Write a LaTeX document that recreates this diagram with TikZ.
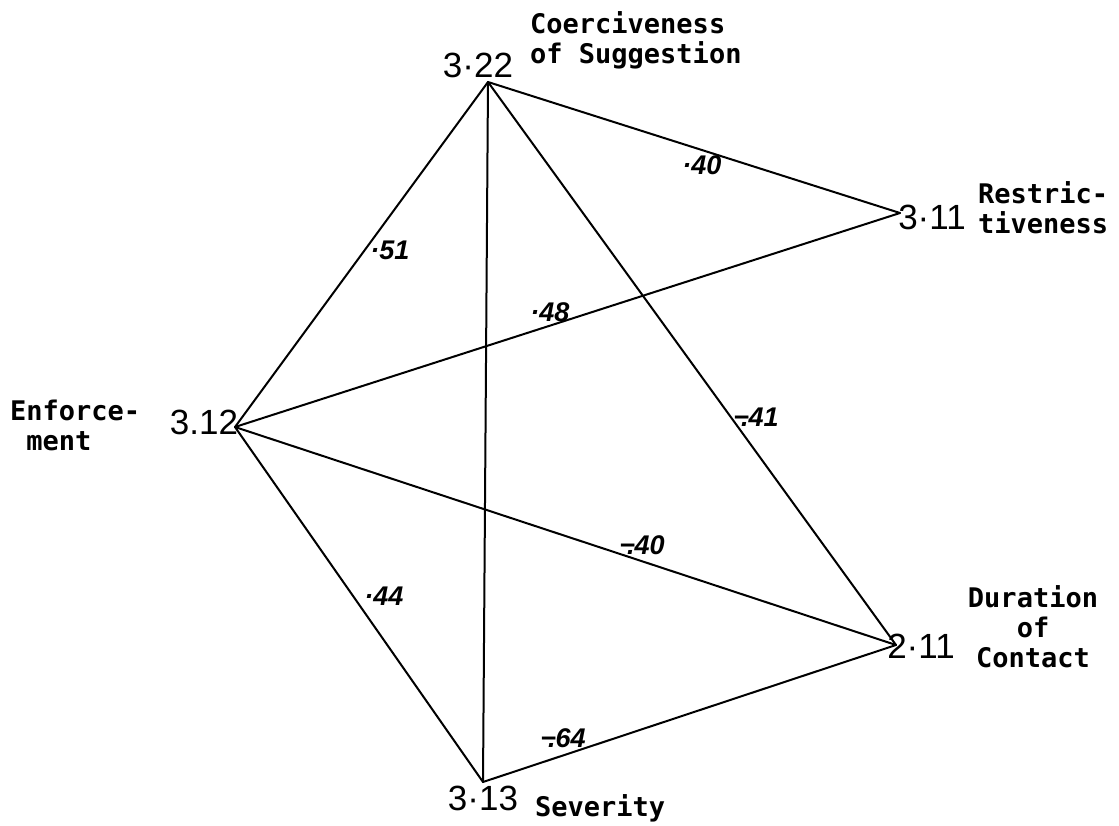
\documentclass[tikz,border=0pt]{standalone}
\usepackage{fontspec}
\newfontfamily\lblfont{DejaVu Sans Mono}
\newfontfamily\numfont{Liberation Sans}
\begin{document}
\begin{tikzpicture}[x=1pt,y=-1pt,
  edge/.style={line width=2pt, line cap=round, line join=round},
  term/.style={inner sep=0pt, font=\lblfont\bfseries\fontsize{27}{30}\selectfont},
  vnum/.style={inner sep=0pt, font=\numfont\fontsize{35}{40}\selectfont},
  wlab/.style={inner sep=0pt, font=\numfont\bfseries\itshape\fontsize{27}{30}\selectfont}]
\useasboundingbox (0,0) rectangle (1119,825);
\coordinate (T) at (488,82);
\coordinate (R) at (900,213);
\coordinate (L) at (235,427);
\coordinate (B) at (483,782);
\coordinate (D) at (896,645);
\draw[edge] (T) -- (R);
\draw[edge] (T) -- (L);
\draw[edge] (T) -- (B);
\draw[edge] (T) -- (D);
\draw[edge] (L) -- (R);
\draw[edge] (L) -- (D);
\draw[edge] (L) -- (B);
\draw[edge] (B) -- (D);
% vertex values
\node[vnum] (nT) at (478,65) {3·22};
\node[vnum] (nR) at (932,217) {3·11};
\node[vnum] (nL) at (204,422) {3.12};
\node[vnum] (nB) at (483,798) {3·13};
\node[vnum] (nD) at (921,646) {2·11};
% variable names
\node[term, anchor=west, align=left] (tT) at (530,40) {Coerciveness\\of Suggestion};
\node[term, anchor=west, align=left] (tR) at (978,208) {Restric-\\tiveness};
\node[term, anchor=west, align=left] (tL) at (10,425) {Enforce-\\\hspace{0.6em}ment};
\node[term, align=center] (tD) at (1033,627) {Duration\\of\\Contact};
\node[term, anchor=west] (tB) at (535,808) {Severity};
% correlations
\node[wlab] (wTR) at (702,165) {·40};
\node[wlab] (wTL) at (390,250) {·51};
\node[wlab] (wLR) at (550,312) {·48};
\node[wlab] (wTD) at (756,417) {−\kern-0.3em.41};
\node[wlab] (wLD) at (642,545) {−\kern-0.3em.40};
\node[wlab] (wLB) at (384,596) {·44};
\node[wlab] (wBD) at (563,738) {−\kern-0.3em.64};
\end{tikzpicture}
\end{document}
